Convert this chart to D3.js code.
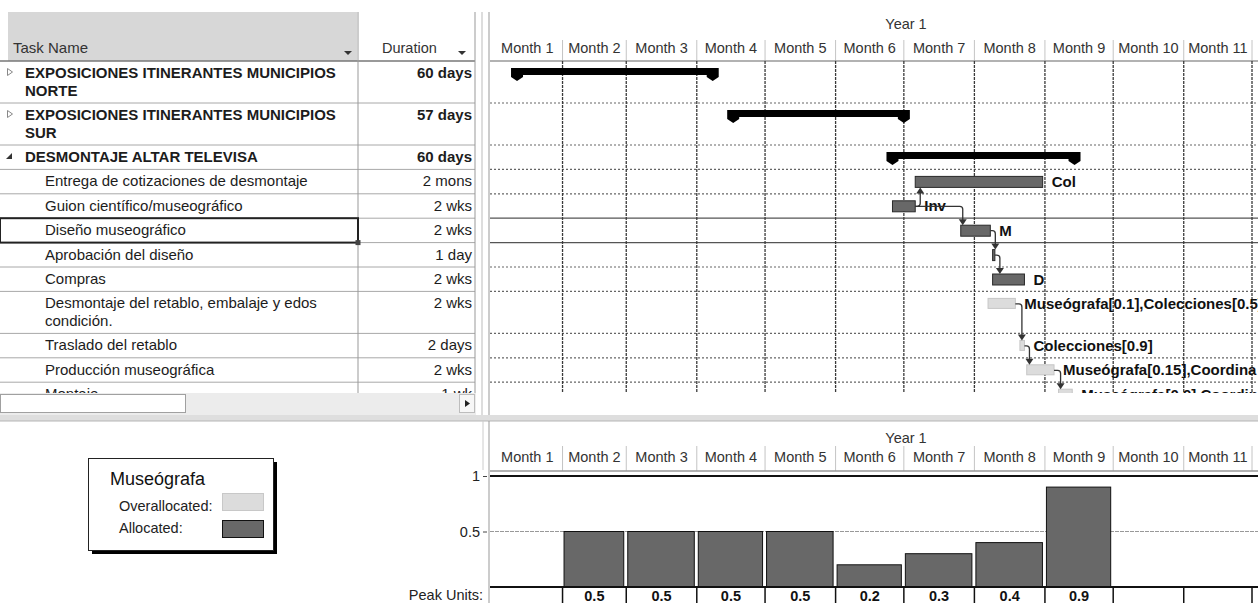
<!DOCTYPE html>
<html>
<head>
<meta charset="utf-8">
<script src="https://cdn.jsdelivr.net/npm/d3@7"></script>
<style>
  body { margin: 0; background: #fff; }
  svg { display: block; font-family: "Liberation Sans", Arial, sans-serif; }
</style>
</head>
<body>
<div id="chart"></div>
<script>
// ---- data ----
const taskNames = [
  "EXPOSICIONES ITINERANTES MUNICIPIOS\nNORTE",
  "EXPOSICIONES ITINERANTES MUNICIPIOS\nSUR",
  "DESMONTAJE ALTAR TELEVISA",
  "Entrega de cotizaciones de desmontaje",
  "Guion científico/museográfico",
  "Diseño museográfico",
  "Aprobación del diseño",
  "Compras",
  "Desmontaje del retablo, embalaje y edos\ncondición.",
  "Traslado del retablo",
  "Producción museográfica",
  "Montaje"
];
const durations = ["60 days", "57 days", "60 days", "2 mons", "2 wks", "2 wks", "1 day", "2 wks", "2 wks", "2 days", "2 wks", "1 wk"];
const outlineLevel = [0, 0, 0, 1, 1, 1, 1, 1, 1, 1, 1, 1];
const isSummary = [true, true, true, false, false, false, false, false, false, false, false, false];
const isCollapsed = [true, true, false, false, false, false, false, false, false, false, false, false];
const taskStart = ["2001-01-12", "2001-04-17", "2001-06-26", "2001-07-06", "2001-06-26", "2001-07-26", "2001-08-09", "2001-08-09", "2001-08-07", "2001-08-21", "2001-08-24", "2001-09-07"];
const taskFinish = ["2001-04-08", "2001-07-01", "2001-09-14", "2001-08-31", "2001-07-06", "2001-08-08", "2001-08-10", "2001-08-23", "2001-08-19", "2001-08-23", "2001-09-05", "2001-09-13"];
const allocation = ["", "", "", "Allocated", "Allocated", "Allocated", "Allocated", "Allocated", "Overallocated", "Overallocated", "Overallocated", "Overallocated"];
const barLabels = ["", "", "", "Col", "Inv", "M", "", "D", "Museógrafa[0.1],Colecciones[0.5]", "Colecciones[0.9]", "Museógrafa[0.15],Coordina", "Museógrafa[0.9],Coordin"];
// [predecessor, successor]
const links = [[4, 3], [4, 5], [5, 6], [6, 7], [8, 9], [9, 10], [10, 11]];
const selectedRow = 5;

const yearLabel = "Year 1";
const monthLabels = ["Month 1", "Month 2", "Month 3", "Month 4", "Month 5", "Month 6", "Month 7", "Month 8", "Month 9", "Month 10", "Month 11"];
const resourceName = "Museógrafa";
const peakUnits = [0, 0.5, 0.5, 0.5, 0.5, 0.2, 0.3, 0.4, 0.9, 0, 0];
const unitTicks = [0.5, 1];

// ---- layout ----
const W = 1258, H = 603;
const FONT = 14.5;
const colors = { Allocated: "#686868", Overallocated: "#dcdcdc", line: "#a8a8a8", text: "#1c1c1c" };

const parse = d3.timeParse("%Y-%m-%d");
const monthStarts = d3.timeMonth.range(new Date(2001, 0, 1), new Date(2001, 11, 2));

const x = d3.scaleTime()
  .domain([new Date(2001, 0, 1), new Date(2001, 11, 1)])
  .range([492, 1252]);

const svg = d3.select("#chart").append("svg")
  .attr("width", W).attr("height", H);

// row positions (two-line rows are taller)
const rowTop = [];
let yy = 61;
taskNames.forEach(n => {
  rowTop.push(yy);
  yy += n.includes("\n") ? 42 : 24.4;
});
const rowBottom = rowTop.map((t, i) => t + (taskNames[i].includes("\n") ? 42 : 24.4));

const gridBottom = 393;

// ================= TABLE =================
const table = svg.append("g");

// header
table.append("rect").attr("x", 8).attr("y", 12).attr("width", 349).attr("height", 49).attr("fill", "#d7d7d7");
table.append("text").attr("x", 13).attr("y", 53).attr("font-size", 15).attr("fill", "#333").text("Task Name");
table.append("text").attr("x", 382).attr("y", 53).attr("font-size", FONT).attr("fill", "#333").text("Duration");
[348, 462].forEach(ax => {
  table.append("path").attr("d", `M${ax - 4},51 L${ax + 4},51 L${ax},55 Z`).attr("fill", "#333");
});
table.append("line").attr("x1", 0).attr("x2", 475).attr("y1", 61).attr("y2", 61)
  .attr("stroke", "#777").attr("stroke-width", 1.5);

// rows
taskNames.forEach((name, i) => {
  const top = rowTop[i];
  const lines = name.split("\n");
  const tx = outlineLevel[i] === 0 ? 25 : 45;
  const bold = isSummary[i] ? "bold" : "normal";
  lines.forEach((ln, k) => {
    table.append("text")
      .attr("x", tx).attr("y", top + 17 + k * 18)
      .attr("font-size", 15).attr("font-weight", bold).attr("fill", colors.text)
      .text(ln);
  });
  table.append("text")
    .attr("x", 472).attr("y", top + 17)
    .attr("text-anchor", "end")
    .attr("font-size", 15).attr("font-weight", bold).attr("fill", colors.text)
    .text(durations[i]);
  if (isSummary[i]) {
    if (isCollapsed[i]) {
      table.append("path").attr("d", `M7.5,${top + 7.5} L12.5,${top + 11} L7.5,${top + 14.5} Z`)
        .attr("fill", "#fff").attr("stroke", "#888");
    } else {
      table.append("path").attr("d", `M12,${top + 8} L12,${top + 14} L6,${top + 14} Z`).attr("fill", "#333");
    }
  }
  table.append("line").attr("x1", 0).attr("x2", 475)
    .attr("y1", rowBottom[i]).attr("y2", rowBottom[i])
    .attr("stroke", colors.line);
});

// column lines
[358, 475].forEach(cx => {
  table.append("line").attr("x1", cx).attr("x2", cx).attr("y1", 12).attr("y2", gridBottom)
    .attr("stroke", "#999");
});

// selected cell
table.append("rect")
  .attr("x", 0).attr("y", rowTop[selectedRow])
  .attr("width", 358).attr("height", rowBottom[selectedRow] - rowTop[selectedRow])
  .attr("fill", "none").attr("stroke", "#222").attr("stroke-width", 2);
table.append("rect")
  .attr("x", 355.5).attr("y", rowBottom[selectedRow] - 2.5).attr("width", 5).attr("height", 5)
  .attr("fill", "#444");

// horizontal scrollbar
table.append("rect").attr("x", 0).attr("y", 393).attr("width", 476).attr("height", 22).attr("fill", "#ececec");
table.append("rect").attr("x", 0.5).attr("y", 394.5).attr("width", 185).attr("height", 18)
  .attr("fill", "#fff").attr("stroke", "#a0a0a0");
table.append("rect").attr("x", 459.5).attr("y", 394.5).attr("width", 15).attr("height", 18)
  .attr("fill", "#f7f7f7").attr("stroke", "#bdbdbd");
table.append("path").attr("d", "M465,400 L470,403.5 L465,407 Z").attr("fill", "#222");

// splitter
[482, 489].forEach(sx => {
  svg.append("line").attr("x1", sx).attr("x2", sx).attr("y1", 12).attr("y2", 415)
    .attr("stroke", sx === 482 ? "#bbb" : "#999");
});

// ================= GANTT =================
const gantt = svg.append("g");
svg.append("clipPath").attr("id", "gclip")
  .append("rect").attr("x", 490).attr("y", 12).attr("width", W - 490).attr("height", gridBottom - 12);
const g = gantt.append("g").attr("clip-path", "url(#gclip)");

function drawTimescale(parent, yearY, monthY, tickTop, headBottom) {
  parent.append("text").attr("x", 906).attr("y", yearY)
    .attr("text-anchor", "middle").attr("font-size", FONT).attr("fill", "#333").text(yearLabel);
  monthStarts.slice(0, -1).forEach((m, i) => {
    const next = monthStarts[i + 1];
    parent.append("text")
      .attr("x", (x(m) + x(next)) / 2).attr("y", monthY)
      .attr("text-anchor", "middle").attr("font-size", FONT).attr("fill", "#333")
      .text(monthLabels[i]);
  });
  monthStarts.slice(1).forEach(m => {
    parent.append("line").attr("x1", x(m)).attr("x2", x(m)).attr("y1", tickTop).attr("y2", headBottom)
      .attr("stroke", "#c4c4c4");
  });
  parent.append("line").attr("x1", 490).attr("x2", W).attr("y1", headBottom).attr("y2", headBottom)
    .attr("stroke", "#999").attr("stroke-width", 1.5);
}

drawTimescale(g, 29, 53, 40, 61);

// grid: rows
rowBottom.forEach((b, i) => {
  const solid = i === selectedRow || i === selectedRow - 1;
  g.append("line").attr("x1", 490).attr("x2", W).attr("y1", b).attr("y2", b)
    .attr("stroke", solid ? "#555" : "#666")
    .attr("stroke-width", solid ? 1.2 : 1.2)
    .attr("stroke-dasharray", solid ? null : "2,2");
});
// grid: months
monthStarts.slice(1).forEach(m => {
  g.append("line").attr("x1", x(m)).attr("x2", x(m)).attr("y1", 61).attr("y2", gridBottom)
    .attr("stroke", "#3a3a3a").attr("stroke-width", 1.3).attr("stroke-dasharray", "3,1");
});

// bars
function summaryPath(x0, x1, top) {
  const w = 6, h = 7, d = 13;
  return `M${x0 - w},${top} H${x1 + w} V${top + h + 2} L${x1},${top + d} L${x1 - w},${top + h + 2} V${top + h}` +
    ` H${x0 + w} V${top + h + 2} L${x0},${top + d} L${x0 - w},${top + h + 2} Z`;
}

taskNames.forEach((n, i) => {
  const x0 = x(parse(taskStart[i])), x1 = x(parse(taskFinish[i]));
  const top = rowTop[i] + 7;
  if (isSummary[i]) {
    g.append("path").attr("d", summaryPath(x0, x1, top)).attr("fill", "#000");
  } else {
    const over = allocation[i] === "Overallocated";
    g.append("rect")
      .attr("x", x0).attr("y", top)
      .attr("width", Math.max(2, x1 - x0)).attr("height", over ? 10 : 11)
      .attr("fill", colors[allocation[i]])
      .attr("stroke", over ? "#c6c6c6" : "#2a2a2a").attr("stroke-width", 1);
    if (barLabels[i]) {
      g.append("text")
        .attr("x", x1 + 9).attr("y", rowTop[i] + 17.5)
        .attr("font-size", 15).attr("font-weight", "bold").attr("fill", "#111")
        .text(barLabels[i]);
    }
  }
});

// dependency links
links.forEach(([p, s]) => {
  const pEnd = x(parse(taskFinish[p]));
  const sStart = x(parse(taskStart[s]));
  const py = rowTop[p] + 7 + 5.5;
  const ax = Math.max(pEnd + 5, sStart + 2);
  const up = s < p;
  const ty = up ? rowTop[s] + 7 + 11 : rowTop[s] + 7;
  const r = 3;
  const dir = up ? -1 : 1;
  const path = `M${pEnd},${py} H${ax - r} Q${ax},${py} ${ax},${py + dir * r} V${ty - dir * 5}`;
  g.append("path").attr("d", path).attr("fill", "none").attr("stroke", "#333").attr("stroke-width", 1.3);
  g.append("path")
    .attr("d", `M${ax - 4},${ty - dir * 6} L${ax + 4},${ty - dir * 6} L${ax},${ty} Z`)
    .attr("fill", "#333");
});

// pane divider
svg.append("rect").attr("x", 0).attr("y", 415).attr("width", W).attr("height", 6).attr("fill", "#dedede");
svg.append("line").attr("x1", 0).attr("x2", W).attr("y1", 421).attr("y2", 421).attr("stroke", "#b5b5b5");

// ================= RESOURCE GRAPH =================
const rg = svg.append("g");
const y = d3.scaleLinear().domain([0, 1]).range([587, 476]);

svg.append("line").attr("x1", 489).attr("x2", 489).attr("y1", 421).attr("y2", H).attr("stroke", "#999");
svg.append("line").attr("x1", 483).attr("x2", 483).attr("y1", 421).attr("y2", 470).attr("stroke", "#ccc");

drawTimescale(rg, 443, 462, 446, 471);

// half-unit gridline
rg.append("line").attr("x1", 490).attr("x2", W).attr("y1", y(0.5)).attr("y2", y(0.5))
  .attr("stroke", "#999").attr("stroke-dasharray", "4,1");

// bars
rg.selectAll("rect.unit")
  .data(peakUnits)
  .enter().append("rect")
  .attr("class", "unit")
  .attr("x", (d, i) => x(monthStarts[i]) + 1.5)
  .attr("y", d => y(d))
  .attr("width", (d, i) => x(monthStarts[i + 1]) - x(monthStarts[i]) - 4)
  .attr("height", d => y(0) - y(d))
  .attr("fill", colors.Allocated)
  .attr("stroke", "#111")
  .style("display", d => d > 0 ? null : "none");

// top line at 1 unit
rg.append("line").attr("x1", 490).attr("x2", W).attr("y1", y(1)).attr("y2", y(1))
  .attr("stroke", "#111").attr("stroke-width", 2);

// y axis
const yAxis = d3.axisLeft(y).tickValues(unitTicks).tickSize(4).tickPadding(3).tickFormat(d3.format(""));
const ya = rg.append("g").attr("transform", "translate(487,0)").call(yAxis);
ya.select(".domain").remove();
ya.selectAll("text").attr("font-size", FONT).attr("fill", "#222").attr("font-family", "Liberation Sans, Arial, sans-serif");
ya.selectAll("line").attr("stroke", "#444");

// peak units row
rg.append("text").attr("x", 483).attr("y", 600).attr("text-anchor", "end")
  .attr("font-size", FONT).attr("fill", "#222").text("Peak Units:");
rg.append("line").attr("x1", 490).attr("x2", W).attr("y1", y(0)).attr("y2", y(0))
  .attr("stroke", "#111").attr("stroke-width", 2);
monthStarts.slice(1).forEach(m => {
  rg.append("line").attr("x1", x(m)).attr("x2", x(m)).attr("y1", y(0)).attr("y2", H)
    .attr("stroke", "#111").attr("stroke-width", 1.5);
});
rg.selectAll("text.peak")
  .data(peakUnits)
  .enter().append("text")
  .attr("class", "peak")
  .attr("x", (d, i) => (x(monthStarts[i]) + x(monthStarts[i + 1])) / 2)
  .attr("y", 601)
  .attr("text-anchor", "middle")
  .attr("font-size", FONT).attr("font-weight", "bold").attr("fill", "#111")
  .text(d => d > 0 ? d : "");

// legend
const lg = svg.append("g");
lg.append("rect").attr("x", 92).attr("y", 462).attr("width", 185).attr("height", 92).attr("fill", "#000");
lg.append("rect").attr("x", 88.5).attr("y", 458.5).attr("width", 185).attr("height", 92)
  .attr("fill", "#fff").attr("stroke", "#222");
lg.append("text").attr("x", 110).attr("y", 485).attr("font-size", 18).attr("fill", "#111").text(resourceName);
["Overallocated", "Allocated"].forEach((k, i) => {
  lg.append("text").attr("x", 119).attr("y", 511 + i * 22)
    .attr("font-size", FONT).attr("fill", "#222").text(k + ":");
  lg.append("rect").attr("x", 222.5).attr("y", 493.5 + i * 27).attr("width", 41).attr("height", 17)
    .attr("fill", colors[k]).attr("stroke", i ? "#111" : "#c8c8c8");
});
</script>
</body>
</html>
